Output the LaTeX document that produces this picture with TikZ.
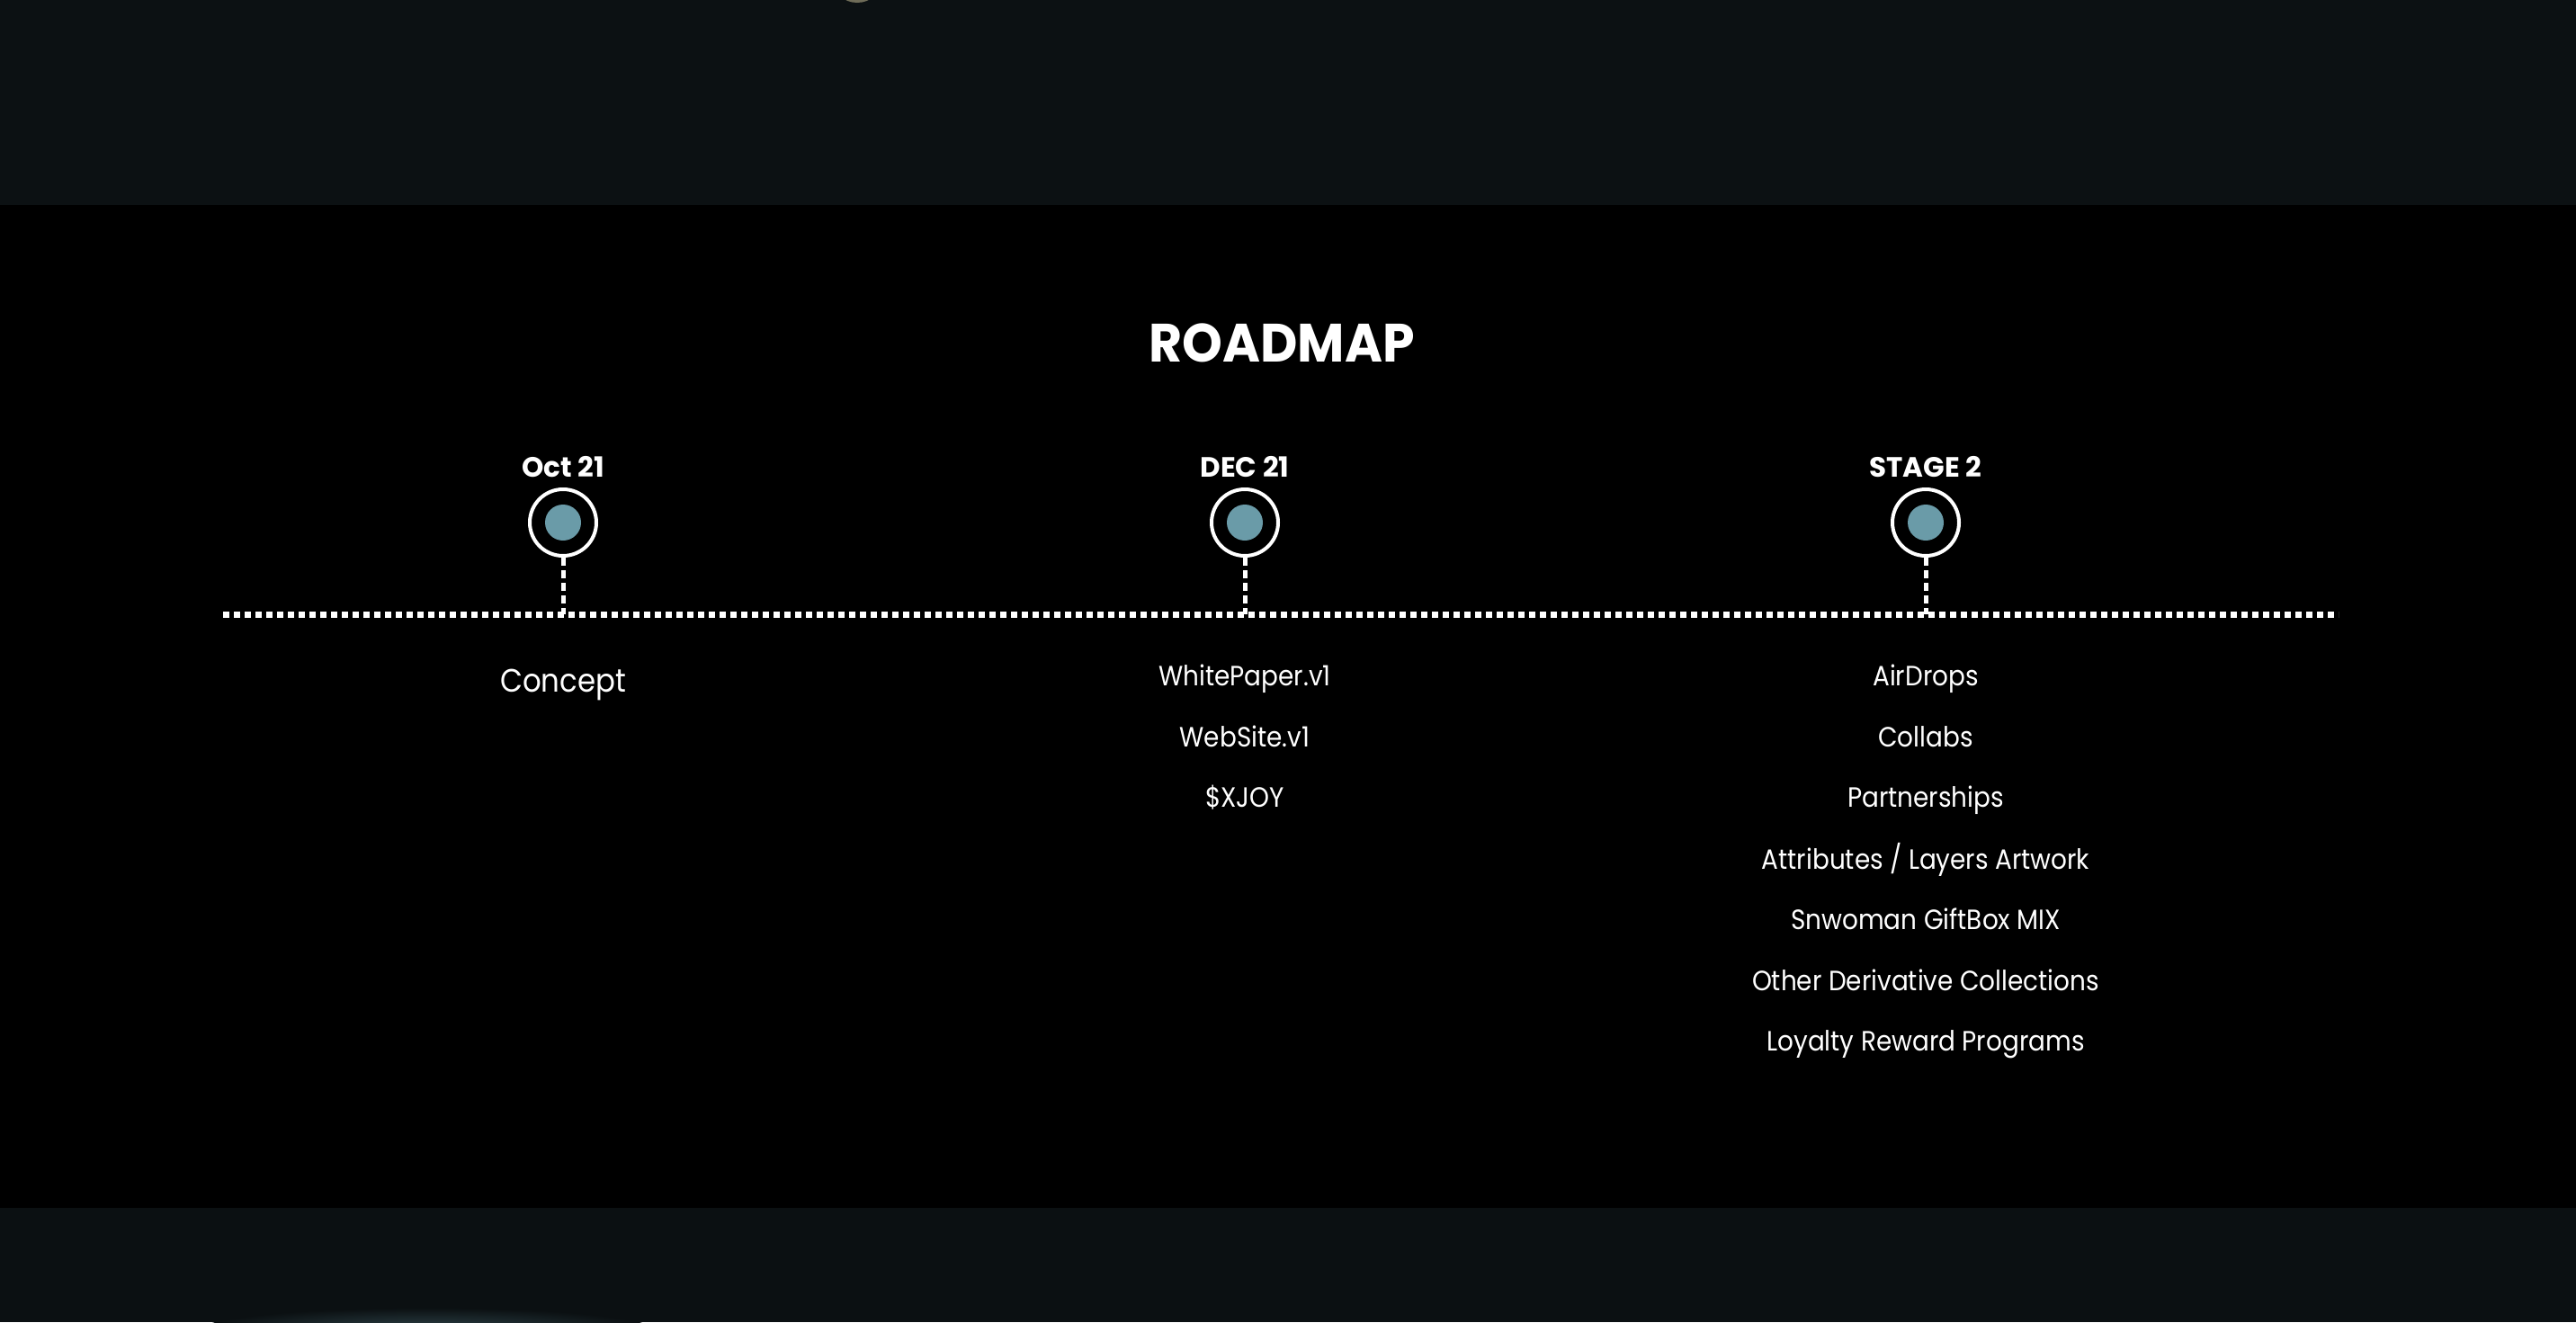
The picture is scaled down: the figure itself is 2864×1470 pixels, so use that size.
\documentclass[tikz,border=0pt]{standalone}
\usepackage{fontspec}
\setmainfont{Poppins}
\newfontfamily\narrowfont[FakeStretch=0.9]{Poppins}
\newfontfamily\titlefont[FakeStretch=0.95]{Poppins}
\usetikzlibrary{calc}
\definecolor{bandtop}{HTML}{0C1113}
\definecolor{bandbot}{HTML}{0B1012}
\definecolor{dotblue}{HTML}{6A9BA8}
\begin{document}
\begin{tikzpicture}[x=1pt,y=-1pt,
  item/.style={text=white,anchor=base,inner sep=0pt,font=\narrowfont\fontsize{31}{36}\selectfont},
  datelbl/.style={text=white,anchor=base,inner sep=0pt,font=\fontsize{31}{36}\selectfont\bfseries},
  ring/.style={circle,draw=white,line width=4pt,fill=black,minimum size=74pt,inner sep=0pt},
  dot/.style={circle,fill=dotblue,minimum size=40pt,inner sep=0pt},
  stem/.style={draw=white,line width=5pt,dash pattern=on 9pt off 5pt},
  timeline/.style={draw=white,line width=7pt,dash pattern=on 7pt off 5pt}]
\useasboundingbox (0,0) rectangle (2864,1470);
% backgrounds
\fill[black] (0,0) rectangle (2864,1470);
\fill[bandtop] (0,0) rectangle (2864,228);
\fill[bandbot] (0,1343) rectangle (2864,1470);
\begin{scope}
\clip (0,1343) rectangle (2864,1470);
\shade[inner color=dotblue!35!bandbot,outer color=bandbot] (475,1478) ellipse (250pt and 24pt);
\end{scope}
\fill[gray!60!yellow!50!black] (953,-22) ellipse (27pt and 25pt);
% title
\node[text=white,anchor=base,inner sep=0pt,font=\titlefont\fontsize{60}{70}\selectfont\bfseries] (title) at (1425,402) {ROADMAP};
% timeline
\coordinate (tl) at (248,683);
\coordinate (tr) at (2600,683);
\draw[timeline] (tl) -- (tr);
% markers
\foreach \i/\x/\lab in {1/626/Oct 21,2/1384/DEC 21,3/2141/STAGE 2}{
  \node[datelbl] (d\i) at (\x,530) {\lab};
  \node[ring] (m\i) at (\x,581) {};
  \node[dot] (c\i) at (\x,581) {};
  \coordinate (t\i) at (\x,683);
  \draw[stem] (m\i.south) -- (t\i);
}
% texts
\node[item,font=\narrowfont\fontsize{36}{40}\selectfont] (concept) at (626,769) {Concept};
\node[item] (w1) at (1384,762) {WhitePaper.v1};
\node[item] (w2) at (1384,830) {WebSite.v1};
\node[item] (w3) at (1384,897) {\$XJOY};
\node[item] (s1) at (2141,762) {AirDrops};
\node[item] (s2) at (2141,830) {Collabs};
\node[item] (s3) at (2141,897) {Partnerships};
\node[item] (s4) at (2141,966) {Attributes / Layers Artwork};
\node[item] (s5) at (2141,1033) {Snwoman GiftBox MIX};
\node[item] (s6) at (2141,1101) {Other Derivative Collections};
\node[item] (s7) at (2141,1168) {Loyalty Reward Programs};
\end{tikzpicture}
\end{document}
